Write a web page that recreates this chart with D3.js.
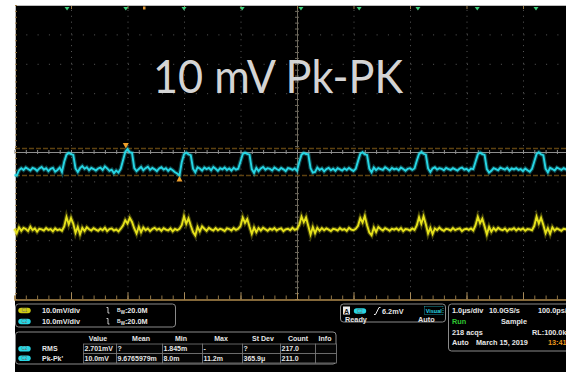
<!DOCTYPE html>
<html>
<head>
<meta charset="utf-8">
<script src="https://cdn.jsdelivr.net/npm/d3@7"></script>
<style>
  body { margin: 0; background: #fff; }
  svg { display: block; }
</style>
</head>
<body>
<div id="scope"></div>
<script>
// acquisition: 1.0us/div, one sample every 0.04us starting at -5us
const sampleStep = 0.04;
const startTime = -5;

// C2 (cyan) in mV about its own baseline
const ch2Values = [
  -1.9, -2.1, -0.3, 0.4, -0.2, 0.6, 0.1, -0.4, 0.5, 0.2, -0.5, 0.3, 0.8, -0.1, 0.4, -0.6, 0.2, 0.5, -0.8, -0.2, 0.6, -0.9,
  2.6, 5.0, 5.6, 5.2, 4.9, 0.3,
  -0.9, 0.4, 1.1, 0.2, 0.7, -0.3, 0.5, 0.1, -0.4, 0.3, 0.6, -0.2, 1.0, 0.3, -0.5, -0.1, -1.3, -0.4, -1.1, 0.2,
  3.0, 5.9, 6.9, 5.8, 5.6, 0.4,
  -0.6, 0.1, 0.8, -0.3, 0.4, 0.9, -0.2, 0.5, 0.0, -0.6, 0.3, 0.7, -0.1, 0.4, -0.5, 0.2, -0.3, -1.0, -1.4, -2.1,
  2.4, 5.1, 5.7, 5.1, 4.8, 0.2,
  -1.0, 0.7, 0.3, -0.4, 0.6, 0.1, 0.5, -0.3, 0.8, 0.2, -0.5, 0.4, 0.0, 0.6, -0.2, 0.3, -0.4, 0.5, -0.1, 0.2,
  2.7, 5.2, 5.7, 5.3, 5.0, 0.1,
  -1.2, 0.5, -0.6, 0.3, 0.8, -0.1, 0.4, 0.2, -0.4, 0.6, 0.1, -0.3, 0.5, 0.0, -0.6, 0.4, 0.2, -0.2, 0.3, -0.5,
  2.5, 5.0, 5.6, 5.2, 5.1, 0.4,
  -1.1, -0.9, 0.6, -0.2, 0.3, -0.7, 0.1, 0.5, -0.3, 0.2, -0.5, 0.4, 0.0, -0.4, 0.3, -0.2, 0.5, -0.1, -0.6, 0.2,
  2.8, 5.3, 5.8, 5.1, 4.9, 0.2,
  -1.0, 0.6, -0.3, 0.4, 0.1, -0.2, 0.7, 0.2, -0.4, 0.5, 0.0, 0.3, -0.3, 0.6, 0.1, -0.5, 0.2, 0.4, -0.2, 0.3,
  2.9, 5.2, 5.9, 5.3, 5.0, 0.3,
  -0.9, 0.3, 0.7, -0.1, 0.4, 0.2, -0.3, 0.5, 0.1, -0.2, 0.4, 0.0, -0.4, 0.3, 0.6, -0.1, 0.2, -0.5, 0.3, 0.1,
  2.6, 5.1, 5.7, 5.2, 4.9, 0.1,
  -1.1, -0.5, 0.4, 0.1, -0.3, 0.6, 0.2, -0.1, 0.5, -0.4, 0.3, 0.0, 0.4, -0.2, 0.1, -0.6, 0.3, -0.3, -0.8, 0.2,
  2.7, 5.2, 5.8, 5.1, 4.8, 0.2,
  -1.0, 0.5, 0.1, -0.4, 0.6, 0.2, -0.2, 0.4, 0.0, 0.3
];

// C1 (yellow) in mV about its own baseline
const ch1Values = [
  0.3, -1.2, 0.8, -0.4, 0.6, 0.2, -0.5, 1.0, -0.2, 0.4, -0.7, 0.3, 0.1, -0.3, 0.5, -0.1, 0.2, -0.6, 0.4, -0.2, 0.1, -0.4,
  1.1, 4.3, 1.8, 3.9, 2.0, -1.1, 0.9, -1.6, 0.6, -0.5, 0.8,
  0.1, -0.3, 0.5, 0.0, -0.4, 0.3, -0.2, 0.6, -0.5, 0.2, 0.4, -0.3, 0.1, -0.6, 0.3,
  1.4, 3.2, 2.1, 4.0, 2.6, 0.4, -1.3, 1.0, -0.9, 0.7, -0.2,
  0.4, -0.5, 0.2, 0.6, -0.1, 0.3, -0.4, 0.5, 0.0, -0.3, 0.4, -0.6, 0.2, -0.2, 0.3,
  1.5, 4.5, 2.0, 3.8, 1.4, -0.8, -2.0, 0.9, -0.6, 1.1, 0.3,
  -0.4, 0.6, 0.1, -0.3, 0.5, -0.2, 0.3, 0.0, -0.5, 0.4, 0.2, -0.3, 0.5, -0.1, 0.3,
  1.2, 4.1, 2.3, 3.6, 1.0, -1.4, 0.7, -0.9, 0.5, -0.3, 0.6,
  0.1, -0.4, 0.3, -0.1, 0.5, -0.3, 0.2, 0.4, -0.5, 0.1, 0.3, -0.2, 0.6, -0.1, 0.2,
  1.6, 4.4, 2.5, 4.1, 1.2, -1.7, 0.8, -1.2, 0.6, -0.4, 0.5,
  -0.2, 0.4, 0.0, -0.5, 0.3, 0.1, -0.3, 0.5, -0.1, 0.2, -0.4, 0.6, 0.0, -0.2, 0.3,
  1.3, 3.9, 2.4, 4.6, 1.5, -1.0, -1.9, 0.7, -0.8, 0.9, 0.2,
  -0.3, 0.5, 0.1, -0.4, 0.3, 0.0, 0.4, -0.2, 0.5, -0.5, 0.2, 0.1, -0.3, 0.4, -0.1,
  1.4, 4.2, 2.0, 4.5, 1.8, -1.3, 0.6, -1.5, 0.4, -0.2, 0.7,
  0.0, -0.4, 0.3, 0.1, -0.3, 0.5, -0.2, 0.2, 0.4, -0.5, 0.1, 0.3, -0.1, 0.4, -0.3,
  1.5, 4.3, 2.2, 3.7, 1.1, -1.6, 0.9, -0.7, 0.5, -0.3, 0.6,
  0.1, -0.2, 0.4, -0.5, 0.2, 0.0, 0.5, -0.3, 0.3, -0.1, 0.4, -0.4, 0.2, 0.1, -0.2,
  1.3, 4.4, 2.1, 4.0, 1.6, -1.2, 0.5, -1.4, 0.8, -0.3, 0.4,
  0.0, -0.4, 0.3, 0.1, -0.2
];

// measurement markers (us) and cursor levels (mV relative to C2)
const markerTimes = [-4.07, -3.03, -2.0, -0.97, 0.07, 1.1, 2.14, 3.19, 4.23];
const cursorLevels = [7.1, -2.1];
const cursorMarkTimes = [-3.03, -2.08];

// readouts
const channelRows = [
  { ch: "C1", scale: "10.0mV/div", bw: "20.0M" },
  { ch: "C2", scale: "10.0mV/div", bw: "20.0M" }
];
const measureHeaders = ["Value", "Mean", "Min", "Max", "St Dev", "Count", "Info"];
const measureNames = ["RMS", "Pk-Pk'"];
const measureRows = [
  ["2.701mV", "?", "1.845m", "-", "?", "217.0", ""],
  ["10.0mV", "9.6765979m", "8.0m", "11.2m", "365.9\u03bc", "211.0", ""]
];

const W = 566, H = 372;
const cyan = "#27d6e4", yellow = "#e6e21c", tan = "#9a7a44";
const ch2Offset = -5.9, ch1Offset = -26.4;

const svg = d3.select("#scope").append("svg")
  .attr("width", W).attr("height", H)
  .style("font-family", "'Liberation Sans', Arial, sans-serif");

svg.append("rect").attr("width", W).attr("height", H).attr("fill", "#fff");
svg.append("rect").attr("x", 15).attr("y", 5).attr("width", W - 15).attr("height", H - 5).attr("fill", "#000");

const x = d3.scaleLinear().domain([-5, 5]).range([14.5, 579.5]);
const y = d3.scaleLinear().domain([-50, 50]).range([299, 5]);

// graticule
const grid = svg.append("g");
grid.append("g")
  .attr("transform", "translate(0,299)")
  .call(d3.axisBottom(x).tickValues([-4, -3, -2, -1, 1, 2, 3, 4]).tickSize(-294).tickFormat(""))
  .call(g => g.select(".domain").remove())
  .call(g => g.selectAll("line").attr("stroke", "#5a5a5a").attr("stroke-dasharray", "1 4.88"));
grid.append("g")
  .attr("transform", "translate(15,0)")
  .call(d3.axisRight(y).tickValues([-40, -30, -20, -10, 10, 20, 30, 40]).tickSize(551).tickFormat(""))
  .call(g => g.select(".domain").remove())
  .call(g => g.selectAll("line").attr("stroke", "#5a5a5a").attr("stroke-dasharray", "1 10.3").attr("stroke-dashoffset", -11.3));

// centre crosshair
const minorY = d3.range(-50, 50.01, 2);
const minorX = d3.range(-5, 5.01, 0.2);
grid.append("g")
  .attr("transform", `translate(${x(0)},0)`)
  .call(d3.axisRight(y).tickValues(minorY).tickSize(2).tickFormat(""))
  .call(g => g.select(".domain").attr("stroke", "#6f6a5e"))
  .call(g => g.selectAll("line").attr("stroke", "#6f6a5e").attr("x1", -2));
grid.append("g")
  .attr("transform", `translate(0,${y(0)})`)
  .call(d3.axisTop(x).tickValues(minorX).tickSize(2).tickFormat(""))
  .call(g => g.select(".domain").attr("stroke", "#8e8e8e"))
  .call(g => g.selectAll("line").attr("stroke", "#8e8e8e").attr("y1", 2));

// frame edges
grid.append("line").attr("x1", 15).attr("x2", W).attr("y1", 5.5).attr("y2", 5.5).attr("stroke", "#bdbdbd");
grid.append("line").attr("x1", 15.5).attr("x2", 15.5).attr("y1", 5).attr("y2", 299).attr("stroke", "#bdbdbd");
grid.append("g")
  .attr("transform", "translate(15,0)")
  .call(d3.axisRight(y).tickValues(minorY).tickSize(2).tickFormat(""))
  .call(g => g.select(".domain").remove())
  .call(g => g.selectAll("line").attr("stroke", tan));
grid.append("g")
  .attr("transform", "translate(0,6)")
  .call(d3.axisBottom(x).tickValues(d3.range(-4, 5, 1)).tickSize(3).tickFormat(""))
  .call(g => g.select(".domain").remove())
  .call(g => g.selectAll("line").attr("stroke", tan));
grid.append("g")
  .attr("transform", "translate(0,299.5)")
  .call(d3.axisTop(x).tickValues(minorX).tickSize(4).tickFormat(""))
  .call(g => g.select(".domain").attr("stroke", "#b08a4c").attr("stroke-width", 1.5))
  .call(g => g.selectAll("line").attr("stroke", "#8f7444"));
grid.append("g")
  .attr("transform", "translate(0,299.5)")
  .call(d3.axisTop(x).tickValues(d3.range(-4, 5, 1)).tickSize(7).tickFormat(""))
  .call(g => g.select(".domain").remove())
  .call(g => g.selectAll("line").attr("stroke", "#a88a58"));

// title
svg.append("text")
  .attr("x", 153).attr("y", 93)
  .attr("font-family", "Lato, 'Open Sans', sans-serif")
  .attr("font-size", 46)
  .attr("fill", "#d4d4d4")
  .attr("textLength", 250).attr("lengthAdjust", "spacingAndGlyphs")
  .text("10 mV Pk-PK");

// cursors
svg.selectAll(".cursor").data(cursorLevels).join("line")
  .attr("x1", 15).attr("x2", W)
  .attr("y1", d => y(ch2Offset + d)).attr("y2", d => y(ch2Offset + d))
  .attr("stroke", "#5e4210").attr("stroke-width", 1.6).attr("stroke-dasharray", "5 2");

// traces
const plot = svg.append("g");
function trace(values, offset, color) {
  const line = d3.line()
    .x((d, i) => x(startTime + i * sampleStep))
    .y(d => y(offset + d));
  plot.append("path").datum(values).attr("d", line)
    .attr("fill", "none").attr("stroke", color).attr("stroke-width", 4.2).attr("stroke-opacity", 0.3);
  plot.append("path").datum(values).attr("d", line)
    .attr("fill", "none").attr("stroke", color).attr("stroke-width", 1.9);
}
trace(ch1Values, ch1Offset, yellow);
trace(ch2Values, ch2Offset, cyan);

// cursor marks
svg.append("path")
  .attr("d", `M${x(cursorMarkTimes[0]) - 3},${y(ch2Offset + cursorLevels[0]) - 5.5}h6l-3,5.5z`)
  .attr("fill", "#f0a02a");
svg.append("path")
  .attr("d", `M${x(cursorMarkTimes[1]) - 3},${y(ch2Offset + cursorLevels[1]) + 6}h6l-3,-5.5z`)
  .attr("fill", "#f0a02a");

// measurement markers on top edge
svg.selectAll(".mk").data(markerTimes).join("path")
  .attr("d", d => `M${x(d) - 2.5},7h5l-2.5,3.5z`)
  .attr("fill", "#3fd07c");
svg.append("rect").attr("x", 143).attr("y", 6.5).attr("width", 2.5).attr("height", 3).attr("fill", "#e39a3a");

// readout panels
const txt = (g, tx, ty, s, opts = {}) => g.append("text")
  .attr("x", tx).attr("y", ty)
  .attr("font-size", opts.size || 7.3)
  .attr("font-weight", "bold")
  .attr("fill", opts.fill || "#e6e6e6")
  .attr("text-anchor", opts.anchor || "start")
  .text(s);

function pill(g, cx, cy, color, label) {
  g.append("rect").attr("x", cx - 6.2).attr("y", cy - 2.8).attr("width", 12.4).attr("height", 5.6)
    .attr("rx", 2.8).attr("fill", color);
  g.append("text").attr("x", cx).attr("y", cy + 1.6).attr("text-anchor", "middle")
    .attr("font-size", 4.5).attr("fill", "#6a6a6a").text(label);
}

const panel = svg.append("g");
const boxStroke = "#8a8a8a";

// channel box
panel.append("rect").attr("x", 15.5).attr("y", 304).attr("width", 160).attr("height", 23)
  .attr("rx", 3).attr("fill", "none").attr("stroke", boxStroke);
channelRows.forEach((r, i) => {
  const cy = 310.5 + i * 11;
  pill(panel, 24.5, cy, i === 0 ? "#cfcc12" : cyan, r.ch);
  txt(panel, 42, cy + 2.7, r.scale);
  panel.append("path").attr("d", `M106.5,${cy - 3}h1.5v5.5h1.5`).attr("fill", "none").attr("stroke", "#ddd").attr("stroke-width", 0.9);
  const t = txt(panel, 117, cy + 2.7, "");
  t.append("tspan").attr("font-size", 5).attr("dy", -1.5).text("B");
  t.append("tspan").attr("font-size", 4.5).attr("dy", 2.5).text("W");
  t.append("tspan").attr("dy", -1).text(":" + r.bw);
});

// measurement table
panel.append("rect").attr("x", 15.5).attr("y", 332).attr("width", 320.5).attr("height", 32)
  .attr("rx", 3).attr("fill", "none").attr("stroke", boxStroke);
const colEdges = [83, 116, 162, 202, 242, 280, 315, 336];
const headerCentres = [98, 141, 181, 221, 263, 298, 325];
measureHeaders.forEach((h, i) => txt(panel, headerCentres[i], 341, h, { anchor: "middle", size: 7 }));
measureRows.forEach((row, r) => {
  const top = 344 + r * 9.5;
  pill(panel, 24.5, top + 4.8, cyan, "C2");
  txt(panel, 42, top + 7.2, measureNames[r], { size: 7 });
  row.forEach((v, c) => {
    panel.append("rect").attr("x", colEdges[c] + 0.5).attr("y", top)
      .attr("width", colEdges[c + 1] - colEdges[c]).attr("height", 9.5)
      .attr("fill", "#050505").attr("stroke", "#7a7a7a").attr("stroke-width", 0.8);
    txt(panel, colEdges[c] + 1.5, top + 7.2, v, { size: 7 });
  });
});

// trigger box
panel.append("rect").attr("x", 340.5).attr("y", 304).attr("width", 105).attr("height", 18)
  .attr("rx", 3).attr("fill", "none").attr("stroke", boxStroke);
panel.append("rect").attr("x", 343).attr("y", 306.5).attr("width", 7).attr("height", 8).attr("fill", "#e8e8e8");
txt(panel, 346.5, 313.5, "A", { fill: "#111", anchor: "middle", size: 7 });
pill(panel, 360, 311, cyan, "C2");
panel.append("path").attr("d", "M374,314.5h1.5l3.5,-7h1.5").attr("fill", "none").attr("stroke", "#eee").attr("stroke-width", 1);
txt(panel, 382, 313.5, "6.2mV");
panel.append("rect").attr("x", 424.5).attr("y", 306.5).attr("width", 18.5).attr("height", 8)
  .attr("fill", "none").attr("stroke", cyan).attr("stroke-width", 0.7).attr("stroke-dasharray", "1 1");
txt(panel, 433.7, 312.8, "Visual", { fill: cyan, anchor: "middle", size: 5.5 });
txt(panel, 345, 321.5, "Ready");
txt(panel, 418, 321.5, "Auto");

// horizontal / acquisition box
panel.append("rect").attr("x", 448.5).attr("y", 304).attr("width", 140).attr("height", 47)
  .attr("rx", 3).attr("fill", "none").attr("stroke", boxStroke);
txt(panel, 452, 312.7, "1.0\u03bcs/div");
txt(panel, 489, 312.7, "10.0GS/s");
txt(panel, 538, 312.7, "100.0ps/pt");
txt(panel, 452, 324.4, "Run", { fill: "#2fc832" });
txt(panel, 501, 324.4, "Sample");
txt(panel, 452, 335, "218 acqs");
txt(panel, 532, 335, "RL:100.0k");
txt(panel, 452, 345.4, "Auto");
txt(panel, 476, 345.4, "March 15, 2019");
txt(panel, 548, 345.4, "13:41:26", { fill: "#e8961e" });
</script>
</body>
</html>
